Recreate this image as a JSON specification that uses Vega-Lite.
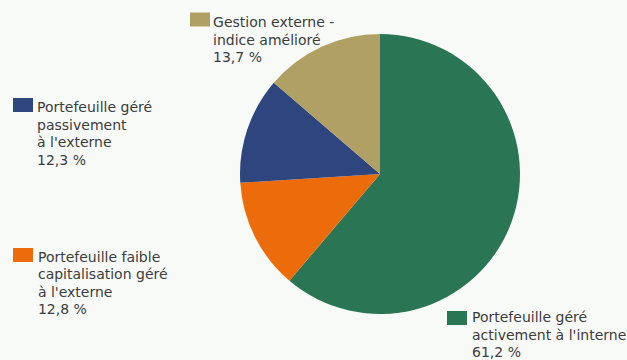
{
  "$schema": "https://vega.github.io/schema/vega-lite/v6.json",
  "width": 494,
  "height": 348,
  "autosize": {"type": "none"},
  "padding": {"left": 133, "top": 0, "right": 0, "bottom": 12},
  "background": "#f8faf8",
  "config": {"view": {"stroke": null}, "font": "DejaVu Sans"},
  "data": {
    "values": [
      {"cat": "Portefeuille géré activement à l'interne", "pct": 61.2, "rang": 1, "label": "Portefeuille géré\nactivement à l'interne\n61,2 %"},
      {"cat": "Portefeuille faible capitalisation géré à l'externe", "pct": 12.8, "rang": 2, "label": "Portefeuille faible\ncapitalisation géré\nà l'externe\n12,8 %"},
      {"cat": "Portefeuille géré passivement à l'externe", "pct": 12.3, "rang": 3, "label": "Portefeuille géré\npassivement\nà l'externe\n12,3 %"},
      {"cat": "Gestion externe - indice amélioré", "pct": 13.7, "rang": 4, "label": "Gestion externe -\nindice amélioré\n13,7 %"}
    ]
  },
  "layer": [
    {
      "mark": {"type": "arc", "outerRadius": 140},
      "encoding": {
        "theta": {"field": "pct", "type": "quantitative", "stack": true},
        "order": {"field": "rang", "type": "quantitative"},
        "color": {
          "field": "cat", "type": "nominal", "legend": null,
          "scale": {
            "domain": ["Portefeuille géré activement à l'interne", "Portefeuille faible capitalisation géré à l'externe", "Portefeuille géré passivement à l'externe", "Gestion externe - indice amélioré"],
            "range": ["#2a7654", "#ec6c0c", "#2e467d", "#b0a064"]
          }
        }
      }
    },
    {
      "mark": {"type": "point", "filled": true, "size": 4, "opacity": 1, "strokeWidth": 0},
      "encoding": {
        "color": {"field": "cat", "type": "nominal", "legend": null},
        "shape": {
          "field": "cat", "type": "nominal", "legend": null,
          "scale": {
            "domain": ["Portefeuille géré activement à l'interne", "Portefeuille faible capitalisation géré à l'externe", "Portefeuille géré passivement à l'externe", "Gestion externe - indice amélioré"],
            "range": ["M67,137h20v14h-20z", "M-367,74h20v14h-20z", "M-367,-76h20v14h-20z", "M-190,-161.5h20v14h-20z"]
          }
        }
      }
    },
    {
      "mark": {"type": "text", "align": "left", "baseline": "alphabetic", "lineBreak": "\n", "lineHeight": 17.5, "fontSize": 14, "color": "#3c3c3c", "dx": -53.5, "dy": 95},
      "encoding": {
        "theta": {"field": "pct", "type": "quantitative", "stack": true},
        "order": {"field": "rang", "type": "quantitative"},
        "radius": {"value": 155},
        "text": {"condition": {"test": "datum.rang === 1", "field": "label", "type": "nominal"}, "value": ""}
      }
    },
    {
      "mark": {"type": "text", "align": "left", "baseline": "alphabetic", "lineBreak": "\n", "lineHeight": 17.5, "fontSize": 14, "color": "#3c3c3c", "dx": -203.5, "dy": 18.5},
      "encoding": {
        "theta": {"field": "pct", "type": "quantitative", "stack": true},
        "order": {"field": "rang", "type": "quantitative"},
        "radius": {"value": 155},
        "text": {"condition": {"test": "datum.rang === 2", "field": "label", "type": "nominal"}, "value": ""}
      }
    },
    {
      "mark": {"type": "text", "align": "left", "baseline": "alphabetic", "lineBreak": "\n", "lineHeight": 17.5, "fontSize": 14, "color": "#3c3c3c", "dx": -196, "dy": -12.7},
      "encoding": {
        "theta": {"field": "pct", "type": "quantitative", "stack": true},
        "order": {"field": "rang", "type": "quantitative"},
        "radius": {"value": 155},
        "text": {"condition": {"test": "datum.rang === 3", "field": "label", "type": "nominal"}, "value": ""}
      }
    },
    {
      "mark": {"type": "text", "align": "left", "baseline": "alphabetic", "lineBreak": "\n", "lineHeight": 17.5, "fontSize": 14, "color": "#3c3c3c", "dx": -102.3, "dy": -6.1},
      "encoding": {
        "theta": {"field": "pct", "type": "quantitative", "stack": true},
        "order": {"field": "rang", "type": "quantitative"},
        "radius": {"value": 155},
        "text": {"condition": {"test": "datum.rang === 4", "field": "label", "type": "nominal"}, "value": ""}
      }
    }
  ]
}
